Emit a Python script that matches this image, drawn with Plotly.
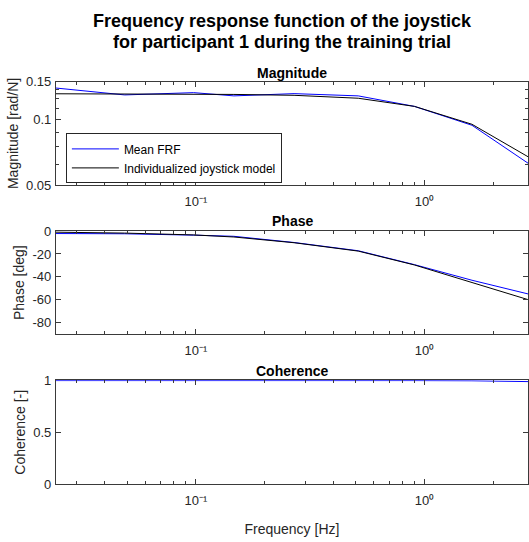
import numpy as np
import plotly.graph_objects as go

# Excited frequencies of the multisine (Hz)
freq = [0.0244, 0.0488, 0.0977, 0.1465, 0.2686, 0.5127, 0.9033, 1.6113, 2.8564]

# Mean FRF estimate
frf_mag = [0.1401, 0.1302, 0.1334, 0.1289, 0.1320, 0.1289, 0.1153, 0.0944, 0.0628]
frf_phase = [-2.2, -2.4, -3.6, -4.6, -10.0, -17.2, -29.3, -42.9, -55.0]
frf_coh = [0.998, 0.999, 0.999, 0.999, 0.999, 0.999, 0.998, 0.996, 0.988]

# Fitted individualized joystick model evaluated at the same frequencies
mdl_mag = [0.1318, 0.1316, 0.1314, 0.1309, 0.1297, 0.1257, 0.1153, 0.0954, 0.0673]
mdl_phase = [-1.0, -1.8, -3.4, -5.2, -10.2, -17.5, -29.6, -44.8, -60.0]

mag_ticks = [0.05, 0.1, 0.15]
mag_ticktext = ["0.05", "0.1", "0.15"]
mag_minor = [0.0625, 0.075, 0.0875, 0.1125, 0.125, 0.1375]
phase_ticks = [-80, -60, -40, -20, 0]
phase_ticktext = ["-80", "-60", "-40", "-20", "0"]
coh_ticks = [0, 0.5, 1]
coh_ticktext = ["0", "0.5", "1"]
freq_ticks = [0.1, 1]
freq_ticktext = ["10\u207b\u00b9", "10\u2070"]
freq_minor = [0.03, 0.04, 0.05, 0.06, 0.07, 0.08, 0.09,
              0.2, 0.3, 0.4, 0.5, 0.6, 0.7, 0.8, 0.9, 2]

W, H = 529, 542
FONT = "Liberation Sans, Arial, sans-serif"
AX = "#262626"
LINEC = "#3a3a3a"
TICK_SIZE = 13
LABEL_SIZE = 14

fig = go.Figure()

fig.add_trace(go.Scatter(x=freq, y=frf_mag, mode="lines", name="Mean FRF",
                         line=dict(color="#0000ff", width=1), xaxis="x", yaxis="y"))
fig.add_trace(go.Scatter(x=freq, y=mdl_mag, mode="lines", name="Individualized joystick model",
                         line=dict(color="#000000", width=1), xaxis="x", yaxis="y"))
fig.add_trace(go.Scatter(x=freq, y=frf_phase, mode="lines", showlegend=False,
                         line=dict(color="#0000ff", width=1), xaxis="x2", yaxis="y2"))
fig.add_trace(go.Scatter(x=freq, y=mdl_phase, mode="lines", showlegend=False,
                         line=dict(color="#000000", width=1), xaxis="x2", yaxis="y2"))
fig.add_trace(go.Scatter(x=freq, y=frf_coh, mode="lines", showlegend=False,
                         line=dict(color="#0000ff", width=1), xaxis="x3", yaxis="y3"))

left_px = 56
x0 = np.log10(freq[0])
decade_px = (425.4 - left_px) / (-x0)
x1 = x0 + (W - left_px) / decade_px


def py(top, bottom):
    return [1 - bottom / H, 1 - top / H]


common_x = dict(
    type="log", range=[x0, x1], domain=[left_px / W, 1],
    tickvals=freq_ticks, ticktext=freq_ticktext, ticklabelstandoff=4,
    ticks="inside", ticklen=5, tickwidth=1, tickcolor=LINEC,
    showline=True, linecolor=LINEC, linewidth=1, mirror="ticks",
    showgrid=False, zeroline=False,
    tickfont=dict(family=FONT, size=TICK_SIZE, color=AX),
    minor=dict(tickvals=freq_minor, ticks="inside", ticklen=3,
               tickcolor=LINEC, tickwidth=1, showgrid=False),
)
common_y = dict(
    ticks="inside", ticklen=5, tickwidth=1, tickcolor=LINEC,
    showline=True, linecolor=LINEC, linewidth=1, mirror="ticks",
    showgrid=False, zeroline=False, ticklabelstandoff=1,
    tickfont=dict(family=FONT, size=TICK_SIZE, color=AX),
    title_font=dict(family=FONT, size=LABEL_SIZE, color=AX),
)

fig.update_layout(
    width=W, height=H,
    margin=dict(l=0, r=0, t=0, b=0),
    paper_bgcolor="white", plot_bgcolor="white",
    showlegend=True,
    legend=dict(
        x=66 / W, y=1 - 130 / H, xanchor="left", yanchor="top",
        bgcolor="white", bordercolor=AX, borderwidth=1,
        font=dict(family=FONT, size=12, color="#000000"),
        itemwidth=47, tracegroupgap=0,
    ),
    xaxis=dict(common_x, anchor="y"),
    xaxis2=dict(common_x, anchor="y2"),
    xaxis3=dict(common_x, anchor="y3",
                title=dict(text="Frequency [Hz]", standoff=17,
                           font=dict(family=FONT, size=LABEL_SIZE, color=AX))),
    yaxis=dict(common_y, anchor="x", type="log", domain=py(76.7, 183.3),
               range=[np.log10(0.05), np.log10(0.15)],
               tickvals=mag_ticks, ticktext=mag_ticktext,
               minor=dict(tickvals=mag_minor, ticks="inside", ticklen=3,
                          tickcolor=LINEC, tickwidth=1, showgrid=False),
               title=dict(text="Magnitude [rad/N]", standoff=4)),
    yaxis2=dict(common_y, anchor="x2", domain=py(230.4, 336.6),
                range=[-90, 0], tickvals=phase_ticks, ticktext=phase_ticktext,
                title=dict(text="Phase [deg]", standoff=4)),
    yaxis3=dict(common_y, anchor="x3", domain=py(384.0, 490.7),
                range=[0, 1], tickvals=coh_ticks, ticktext=coh_ticktext,
                title=dict(text="Coherence [-]", standoff=4)),
)

# Panel titles
for text, yc in [("Magnitude", 67.8), ("Phase", 220.3), ("Coherence", 374.7)]:
    fig.add_annotation(text=text, xref="paper", yref="paper",
                       x=(left_px + 530) / 2 / W, y=1 - yc / H,
                       xanchor="center", yanchor="middle", showarrow=False,
                       font=dict(family=FONT, size=LABEL_SIZE, color="#000000",
                                 weight="bold"))

# Figure title
for text, yc in [("Frequency response function of the joystick", 14.2),
                 ("for participant 1 during the training trial", 36.4)]:
    fig.add_annotation(text=text, xref="paper", yref="paper",
                       x=282.6 / W, y=1 - yc / H,
                       xanchor="center", yanchor="middle", showarrow=False,
                       font=dict(family=FONT, size=18, color="#000000",
                                 weight="bold"))

fig.write_html("out.html")
